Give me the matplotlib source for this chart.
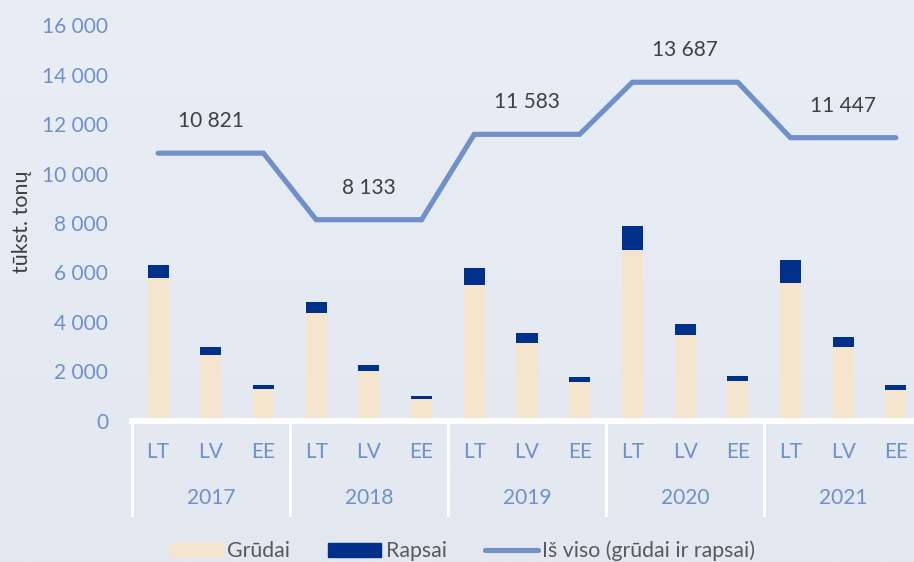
import numpy as np
import matplotlib.pyplot as plt
from matplotlib.transforms import blended_transform_factory
from matplotlib.patches import Patch
from matplotlib.lines import Line2D

plt.rcParams['font.family'] = ['Lato', 'DejaVu Sans']

years = ['2017', '2018', '2019', '2020', '2021']
countries = ['LT', 'LV', 'EE']
grudai = [5770, 2660, 1280, 4350, 2020, 880, 5500, 3140, 1590,
          6910, 3460, 1600, 5590, 2980, 1250]
rapsai = [540, 335, 175, 445, 245, 135, 675, 405, 190,
          970, 455, 200, 905, 415, 215]
is_viso = [10821, 8133, 11583, 13687, 11447]

beige = '#F5E5CF'
navy = '#00308A'
line_c = '#7190C8'
tick_c = '#7090C8'
dark = '#404040'

fig = plt.figure(figsize=(9.14, 5.62), dpi=100)

# light background gradient
bg = fig.add_axes([0, 0, 1, 1], zorder=-10)
top = np.array([0xE9, 0xEE, 0xF6]) / 255
bot = np.array([0xE2, 0xE7, 0xF0]) / 255
grad = np.linspace(0, 1, 256)[:, None, None]
bg.imshow(top + (bot - top) * grad, aspect='auto', extent=[0, 1, 0, 1])
bg.axis('off')

ax = fig.add_axes([0.1441, 0.2509, 0.8649, 0.7046])
ax.set_facecolor('none')

x = np.arange(len(grudai))
ax.bar(x, grudai, width=0.4, color=beige, zorder=2)
ax.bar(x, rapsai, width=0.4, bottom=grudai, color=navy, zorder=2)

line_y = np.repeat(is_viso, len(countries))
ax.plot(x, line_y, color=line_c, lw=3.7, solid_capstyle='round',
        solid_joinstyle='miter', zorder=3)
for i, v in enumerate(is_viso):
    ax.annotate(f'{v:,}'.replace(',', ' '), (i * 3 + 1, v),
                xytext=(0, 23), textcoords='offset points',
                ha='center', va='center', fontsize=15, color=dark)

ax.set_xlim(-0.5, len(grudai) - 0.5)
ax.set_ylim(0, 16000)
ax.set_yticks(range(0, 16001, 2000))
ax.set_yticklabels([f'{t:,}'.replace(',', ' ') for t in range(0, 16001, 2000)])
ax.tick_params(axis='y', length=0, pad=17, labelsize=15, labelcolor=tick_c)
ax.set_xticks([])
for s in ['top', 'right', 'left']:
    ax.spines[s].set_visible(False)
ax.spines['bottom'].set_color('white')
ax.spines['bottom'].set_linewidth(4.3)

tr = blended_transform_factory(ax.transData, ax.transAxes)
for i in x:
    ax.text(i, -0.078, countries[i % 3], transform=tr, ha='center',
            va='center', fontsize=15, color=tick_c)
for j, yr in enumerate(years):
    ax.text(j * 3 + 1, -0.194, yr, transform=tr, ha='center',
            va='center', fontsize=15, color=tick_c)
for b in np.arange(-0.5, len(grudai), 3):
    ax.plot([b, b], [0, -0.237], transform=tr, color='white', lw=2.2,
            clip_on=False)

fig.text(22 / 914, 1 - 222 / 562, 'tūkst. tonų', rotation=90,
         ha='center', va='center', fontsize=15.5, color=dark)

handles = [Patch(color=beige), Patch(color=navy),
           Line2D([], [], color=line_c, lw=3.7, solid_capstyle='round')]
fig.legend(handles, ['Grūdai', 'Rapsai', 'Iš viso (grūdai ir rapsai)'],
           loc='center', bbox_to_anchor=(0.506, 0.02), ncol=3, frameon=False,
           handlelength=2.5, handleheight=0.63, handletextpad=0.2,
           columnspacing=1.8, fontsize=15.3, labelcolor='#595959')

fig.savefig('out.png', dpi=100)
